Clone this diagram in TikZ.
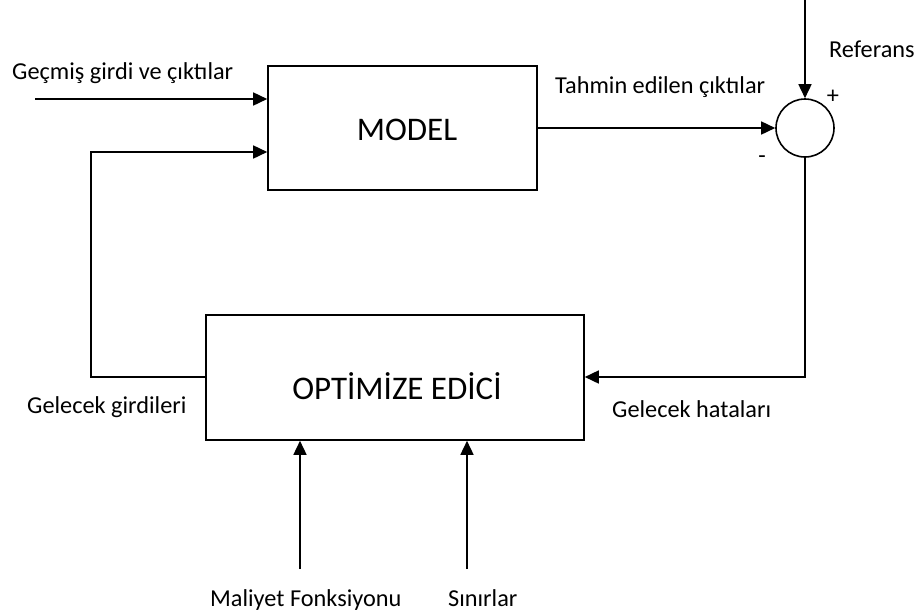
\documentclass[tikz,border=0pt]{standalone}
\usepackage{fontspec}
\setmainfont{Carlito}
\usetikzlibrary{arrows.meta}
\begin{document}
\begin{tikzpicture}[x=1pt,y=-1pt,
  blk/.style={draw,line width=1.6pt,inner sep=0pt},
  lbl/.style={font=\fontsize{24.3}{28}\selectfont,inner sep=0pt,anchor=base west},
  big/.style={font=\fontsize{33}{38}\selectfont,inner sep=0pt},
  wire/.style={line width=1.6pt},
  flow/.style={wire,-{Triangle[length=14pt,width=13pt]}}]
\useasboundingbox (0,0) rectangle (919,614);
% blocks
\node[blk,minimum width=269pt,minimum height=124pt] (model) at (402.5,128) {};
\node[big] (modeltxt) at (407,130) {MODEL};
\node[blk,minimum width=378pt,minimum height=125pt] (opt) at (395,377.5) {};
\node[big] (opttxt) at (397,386) {OPTİMİZE EDİCİ};
\node[draw,line width=1.6pt,circle,minimum size=58pt,inner sep=0pt] (sum) at (805,128) {};
% free ends
\coordinate (reftop) at (805,0);
\coordinate (pastin) at (35,99);
\coordinate (fbcorner1) at (91,377);
\coordinate (fbcorner2) at (91,152);
\coordinate (errcorner) at (805,377);
\coordinate (costin) at (300,569);
\coordinate (limin) at (467,569);
% connectors
\draw[flow] (reftop) -- (sum.north);
\draw[flow] (model.east |- sum.west) -- (sum.west);
\draw[flow] (pastin) -- (pastin -| model.west);
\draw[flow] (opt.west |- fbcorner1) -- (fbcorner1) -- (fbcorner2) -- (fbcorner2 -| model.west);
\draw[flow] (sum.south) -- (errcorner) -- (errcorner -| opt.east);
\draw[flow] (costin) -- (costin |- opt.south);
\draw[flow] (limin) -- (limin |- opt.south);
% labels
\node[lbl] (lref) at (829,57) {Referans};
\node[lbl,anchor=center] (lplus) at (833,97) {+};
\node[lbl,anchor=center] (lminus) at (762,160) {-};
\node[lbl] (lpred) at (555,93) {Tahmin edilen çıktılar};
\node[lbl] (lpast) at (12,79) {Geçmiş girdi ve çıktılar};
\node[lbl] (lfut) at (27,413) {Gelecek girdileri};
\node[lbl] (lerr) at (612,417) {Gelecek hataları};
\node[lbl] (lcost) at (210,606) {Maliyet Fonksiyonu};
\node[lbl] (llim) at (448,606) {Sınırlar};
\end{tikzpicture}
\end{document}
